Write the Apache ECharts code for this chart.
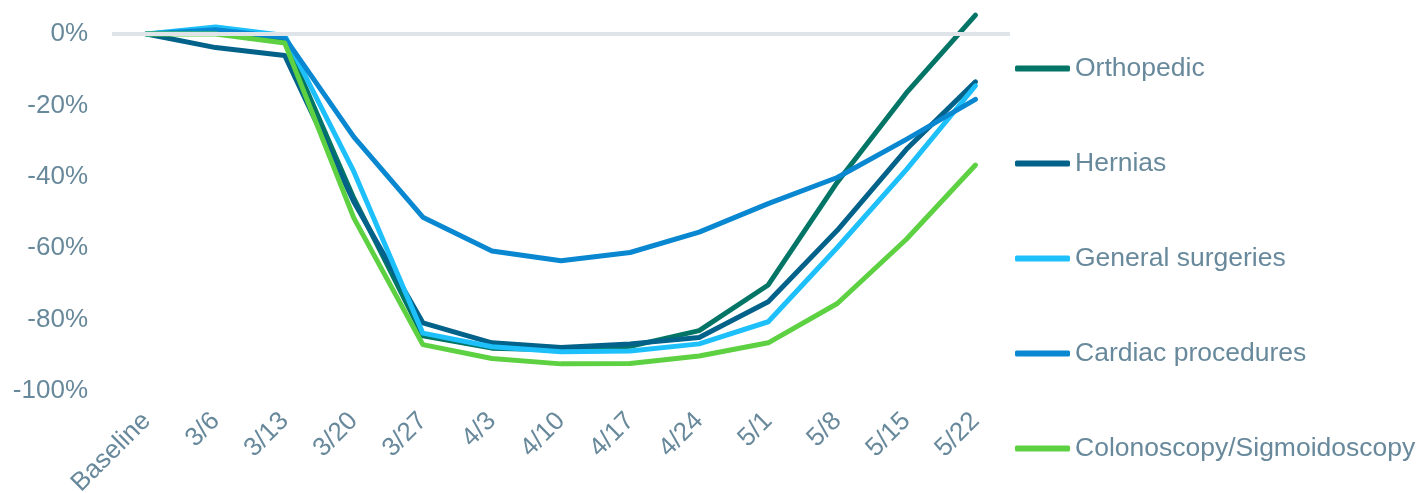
<!DOCTYPE html>
<html>
<head>
<meta charset="utf-8">
<script src="https://cdn.jsdelivr.net/npm/echarts@6/dist/echarts.min.js"></script>
<style>
  html, body { margin: 0; padding: 0; background: #ffffff; }
  #chart { width: 1419px; height: 493px; }
</style>
</head>
<body>
<div id="chart"></div>
<script>
// Weekly change in procedure volumes vs. baseline (%)
const categories = ['Baseline', '3/6', '3/13', '3/20', '3/27', '4/3', '4/10', '4/17', '4/24', '5/1', '5/8', '5/15', '5/22'];

const orthopedic   = [0, 0.5, -1.5, -46, -84.5, -88, -88.5, -87.5, -83.1, -70.3, -41.5, -16.5, 5.3];
const hernias      = [0, -3.8, -6, -47, -80.9, -86.5, -87.8, -86.8, -85, -75, -55, -32.3, -13.4];
const generalSurg  = [0, 2, -0.4, -38.5, -83.8, -87.6, -89, -88.8, -86.8, -80.6, -59.8, -38, -14.5];
const cardiac      = [0, 1.2, -1, -28.8, -51.3, -60.8, -63.5, -61.2, -55.5, -47.5, -40.2, -29.5, -18.3];
const colonoscopy  = [0, 0, -2.5, -51.5, -87, -90.9, -92.4, -92.3, -90.2, -86.5, -75.5, -57.5, -36.7];

const seriesNames = ['Orthopedic', 'Hernias', 'General surgeries', 'Cardiac procedures', 'Colonoscopy/Sigmoidoscopy'];
const seriesData = [orthopedic, hernias, generalSurg, cardiac, colonoscopy];
const seriesColors = ['#037566', '#03628a', '#1ec0fb', '#0987d0', '#5dd142'];

const yTicks = [-100, -80, -60, -40, -20, 0];

const textColor = '#68899b';
const fontFamily = 'Arial, "Liberation Sans", sans-serif';

const chart = echarts.init(document.getElementById('chart'));

const lineSeries = seriesNames.map((name, i) => ({
  name: name,
  type: 'line',
  data: seriesData[i],
  symbol: 'none',
  z: 3,
  lineStyle: { color: seriesColors[i], width: 5, cap: 'round', join: 'round' },
  itemStyle: { color: seriesColors[i] }
}));

// Reference line at 0%
const zeroLine = {
  name: 'zero',
  type: 'line',
  data: [],
  z: 1,
  silent: true,
  markLine: {
    silent: true,
    symbol: 'none',
    label: { show: false },
    lineStyle: { color: '#dfe4e8', width: 4, type: 'solid' },
    data: [{ yAxis: 0 }]
  }
};

chart.setOption({
  animation: false,
  backgroundColor: '#ffffff',
  grid: { left: 112, right: 409, top: 12.6, bottom: 102, containLabel: false, outerBoundsMode: 'none' },
  legend: {
    orient: 'vertical',
    left: 1015,
    top: 55,
    padding: 0,
    itemWidth: 55,
    itemHeight: 6,
    itemGap: 68,
    icon: 'roundRect',
    data: seriesNames,
    textStyle: { color: textColor, fontSize: 26.5, fontFamily: fontFamily, lineHeight: 26 }
  },
  xAxis: {
    type: 'category',
    data: categories,
    boundaryGap: true,
    axisLine: { show: false },
    axisTick: { show: false },
    splitLine: { show: false },
    axisLabel: {
      rotate: 45,
      margin: 26,
      interval: 0,
      color: textColor,
      fontSize: 26,
      fontFamily: fontFamily
    }
  },
  yAxis: {
    type: 'value',
    min: -100,
    max: 6,
    interval: 20,
    axisLine: { show: false },
    axisTick: { show: false },
    splitLine: { show: false },
    axisLabel: {
      margin: 24,
      color: textColor,
      fontSize: 26,
      fontFamily: fontFamily,
      showMaxLabel: false,
      formatter: v => (yTicks.indexOf(v) >= 0 ? v + '%' : '')
    }
  },
  series: [zeroLine].concat(lineSeries)
});
</script>
</body>
</html>
